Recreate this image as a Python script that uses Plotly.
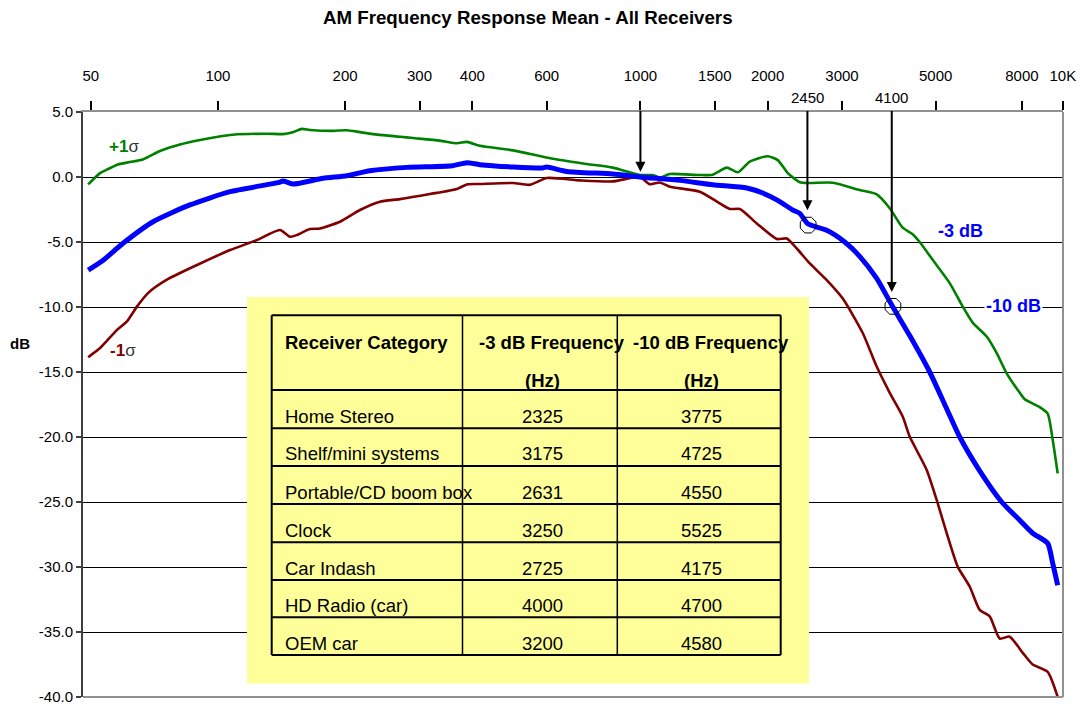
import numpy as np
import plotly.graph_objects as go

# ---------------- data ----------------
tick_f = [50, 100, 200, 300, 400, 600, 1000, 1500, 2000, 3000, 5000, 8000, 10000]
tick_labels = ["50", "100", "200", "300", "400", "600", "1000", "1500", "2000", "3000", "5000", "8000", "10K"]

y_ticks = [5, 0, -5, -10, -15, -20, -25, -30, -35, -40]
y_tick_labels = ["5.0", "0.0", "-5.0", "-10.0", "-15.0", "-20.0", "-25.0", "-30.0", "-35.0", "-40.0"]

# +1 sigma (green)
plus_f = [49.3, 52.6, 54.9, 57.7, 61.9, 66.4, 72.9, 81.3, 90.7, 100, 108.5, 130.6, 142.5, 150.4, 158,
          165.1, 187.2, 202, 216.8, 232.7, 269.6, 289.4, 335.3, 367.8, 388.3, 416.9, 499.1, 620.4,
          746.8, 860.4, 996.8, 1070, 1111.6, 1173.9, 1382, 1484, 1601, 1700, 1815, 2002, 2114, 2233,
          2384, 2517, 2853, 3304, 3625, 3892, 4177, 4410, 4582, 4918, 5397, 5792, 6116, 6602, 6973,
          7362, 7906, 8124, 8814, 9205, 9459, 9721]
plus_db = [-0.57, 0.3, 0.6, 0.95, 1.15, 1.35, 2.0, 2.5, 2.85, 3.1, 3.25, 3.33, 3.3, 3.45, 3.7,
           3.62, 3.55, 3.6, 3.45, 3.3, 3.1, 3.0, 2.8, 2.6, 2.7, 2.4, 2.05, 1.4,
           1.0, 0.72, 0.15, 0.15, -0.05, 0.23, 0.15, 0.18, 0.72, 0.36, 1.18, 1.6, 1.3, 0.3,
           -0.4, -0.46, -0.44, -1.0, -1.34, -2.4, -3.9, -4.4, -5.0, -6.37, -8.16, -9.96, -11.2, -12.27, -13.55,
           -15.1, -16.6, -17.1, -17.7, -18.2, -20.2, -22.8]

# mean (blue)
mean_f = [49.3, 53.5, 59.6, 70.2, 85.8, 106.8, 140.2, 142.5, 150.4, 177.3, 202, 228.9, 280.1, 359.8,
          388.3, 416.9, 499.1, 587.6, 600.5, 669.6, 860.4, 996.8, 1239.5, 1483.6, 1785.6, 1948, 2114,
          2294, 2384, 2490, 2761, 3045, 3304, 3625, 3950, 4339, 4839, 5252, 5700, 6355, 7165,
          7906, 8484, 9205, 9459, 9721]
mean_db = [-7.16, -6.4, -5.1, -3.44, -2.15, -1.13, -0.4, -0.3, -0.54, -0.1, 0.1, 0.48, 0.74, 0.87,
           1.1, 0.95, 0.77, 0.7, 0.77, 0.43, 0.23, 0.0, -0.26, -0.6, -0.85, -1.23, -1.8,
           -2.54, -2.8, -3.6, -4.1, -5.0, -6.1, -7.8, -9.95, -12.2, -15.0, -17.5, -20.0, -22.6, -25.0,
           -26.4, -27.4, -28.17, -29.7, -31.4]

# -1 sigma (dark red)
minus_f = [49.3, 52.6, 54.6, 57.7, 60.9, 64.3, 68.3, 75.7, 89.2, 106.8, 123.7, 140.2, 148.0, 153.8,
           165.1, 174.4, 194.4, 216.8, 241.7, 269.6, 317.5, 367.8, 388.3, 416.9, 499.1, 547.4, 600.5,
           718.8, 860.4, 996.8, 1052.5, 1111.6, 1173.9, 1382, 1541, 1628, 1719, 1886, 2103, 2221, 2345,
           2517, 2761, 3013, 3359, 3625, 3892, 4177, 4339, 4760, 5027, 5309, 5636, 6017, 6355, 6711,
           7088, 7482, 8036, 8484, 9205, 9721]
minus_db = [-13.86, -13.16, -12.6, -11.76, -11.1, -9.97, -8.93, -7.9, -6.77, -5.62, -4.85, -4.08, -4.6, -4.46,
            -4.0, -3.96, -3.44, -2.54, -1.9, -1.7, -1.31, -0.92, -0.57, -0.54, -0.46, -0.6, -0.08,
            -0.26, -0.34, 0.0, -0.55, -0.42, -0.75, -1.13, -2.03, -2.46, -2.46, -3.57, -4.77, -4.73, -5.5,
            -6.65, -7.93, -9.35, -12.0, -14.58, -16.6, -18.43, -19.97, -22.53, -24.84, -27.4, -29.97, -31.5, -33.3, -33.8,
            -35.5, -35.36, -36.6, -37.5, -38.06, -40.0]

# arrows and circle markers
arrow_f = [1000, 2485, 3935]
arrow_tip_db = [0.41, -2.56, -8.85]
arrow_tail_db = 5.2
arrow_labels = ["", "2450", "4100"]
circle_f = [2495, 3960]
circle_db = [-3.7, -9.95]

# table
categories = ["Home Stereo", "Shelf/mini systems", "Portable/CD boom box", "Clock",
              "Car Indash", "HD Radio (car)", "OEM car"]
freq_3db = ["2325", "3175", "2631", "3250", "2725", "4000", "3200"]
freq_10db = ["3775", "4725", "4550", "5525", "4175", "4700", "4580"]

# ---------------- layout helpers ----------------
FONT = "Liberation Sans, Arial, sans-serif"
W, H = 1081, 704
L, R, T, B = 83, 1063, 112, 697


def px(x):
    return (x - L) / (R - L)


def py(y):
    return (B - y) / (B - T)


fig = go.Figure()

fig.add_trace(go.Scatter(x=plus_f, y=plus_db, mode="lines", hoverinfo="skip",
                         line=dict(color="#008000", width=2.6, shape="spline", smoothing=0.6)))
fig.add_trace(go.Scatter(x=minus_f, y=minus_db, mode="lines", hoverinfo="skip",
                         line=dict(color="#800000", width=2.6, shape="spline", smoothing=0.6)))
fig.add_trace(go.Scatter(x=mean_f, y=mean_db, mode="lines", hoverinfo="skip",
                         line=dict(color="#0000FF", width=5, shape="spline", smoothing=0.6)))
fig.add_trace(go.Scatter(x=circle_f, y=circle_db, mode="markers", hoverinfo="skip",
                         marker=dict(symbol="octagon-open", size=17, color="black",
                                     line=dict(width=1, color="black"))))

shapes = []
# right and bottom borders
shapes.append(dict(type="line", xref="paper", yref="paper", x0=1, x1=1, y0=0, y1=1,
                   line=dict(color="#909090", width=2)))
shapes.append(dict(type="line", xref="paper", yref="paper", x0=0, x1=1, y0=0, y1=0,
                   line=dict(color="#909090", width=2)))
# yellow box
shapes.append(dict(type="rect", xref="paper", yref="paper", x0=px(247), x1=px(809), y0=py(683.5), y1=py(297),
                   fillcolor="#FFFF99", line=dict(width=0), layer="above"))
# table lines
row_lines = [315.3, 390, 428.3, 466, 504, 542.3, 580, 617.3, 655]
col_lines = [271.7, 462.5, 617.3, 780.7]
for yl in row_lines:
    shapes.append(dict(type="line", xref="paper", yref="paper", x0=px(col_lines[0]), x1=px(col_lines[-1]),
                       y0=py(yl), y1=py(yl), line=dict(color="black", width=2), layer="above"))
for i, xl in enumerate(col_lines):
    shapes.append(dict(type="line", xref="paper", yref="paper", x0=px(xl), x1=px(xl),
                       y0=py(row_lines[0]), y1=py(row_lines[-1]),
                       line=dict(color="black", width=2 if i in (0, 3) else 1.5), layer="above"))

ann = []
# title
ann.append(dict(text="<b>AM Frequency Response Mean - All Receivers</b>", xref="paper", yref="paper",
                x=px(528), y=py(18), xanchor="center", yanchor="middle", showarrow=False,
                font=dict(size=18.7, color="black", family=FONT)))
# dB label
ann.append(dict(text="<b>dB</b>", xref="paper", yref="paper", x=px(20), y=py(343),
                xanchor="center", yanchor="middle", showarrow=False, font=dict(size=15, color="black", family=FONT)))
# sigma labels
ann.append(dict(text="<b>+1</b><span style='color:#333333'>σ</span>", xref="paper", yref="paper",
                x=px(124), y=py(146), xanchor="center", yanchor="middle", showarrow=False,
                font=dict(size=17, color="#008000", family=FONT)))
ann.append(dict(text="<b>-1</b><span style='color:#333333'>σ</span>", xref="paper", yref="paper",
                x=px(123), y=py(350), xanchor="center", yanchor="middle", showarrow=False,
                font=dict(size=17, color="#800000", family=FONT)))
# -3 / -10 dB labels
ann.append(dict(text="<b>-3 dB</b>", xref="paper", yref="paper", x=px(960), y=py(231),
                xanchor="center", yanchor="middle", showarrow=False, font=dict(size=18, color="#0000FF", family=FONT)))
ann.append(dict(text="<b>-10 dB</b>", xref="paper", yref="paper", x=px(1013), y=py(306),
                xanchor="center", yanchor="middle", showarrow=False, bgcolor="white",
                font=dict(size=18, color="#0000FF", family=FONT)))
# arrows
for f, tip, lab in zip(arrow_f, arrow_tip_db, arrow_labels):
    lx = float(np.log10(f))
    ann.append(dict(x=lx, y=tip, xref="x", yref="y", ax=lx, ay=arrow_tail_db, axref="x", ayref="y",
                    text="", showarrow=True, arrowhead=2, arrowsize=1, arrowwidth=2, arrowcolor="black",
                    standoff=0, startstandoff=0))
    if lab:
        ann.append(dict(x=lx, y=py(97), xref="x", yref="paper", text=lab, showarrow=False,
                        xanchor="center", yanchor="middle", font=dict(size=15, color="black", family=FONT)))

# table header
hdr_font = dict(size=18.5, color="black", family=FONT)
ann.append(dict(text="<b>Receiver Category</b>", xref="paper", yref="paper", x=px(283), y=py(342),
                xanchor="left", yanchor="middle", showarrow=False, font=hdr_font))
ann.append(dict(text="<b>-3 dB Frequency</b>", xref="paper", yref="paper", x=px(477), y=py(342),
                xanchor="left", yanchor="middle", showarrow=False, font=hdr_font))
ann.append(dict(text="<b>-10 dB Frequency</b>", xref="paper", yref="paper", x=px(631), y=py(342),
                xanchor="left", yanchor="middle", showarrow=False, font=hdr_font))
ann.append(dict(text="<b>(Hz)</b>", xref="paper", yref="paper", x=px(542), y=py(380),
                xanchor="center", yanchor="middle", showarrow=False, font=hdr_font))
ann.append(dict(text="<b>(Hz)</b>", xref="paper", yref="paper", x=px(701), y=py(380),
                xanchor="center", yanchor="middle", showarrow=False, font=hdr_font))
# table body
for i, (c, a, b) in enumerate(zip(categories, freq_3db, freq_10db)):
    yc = row_lines[i + 2] - 12
    ann.append(dict(text=c, xref="paper", yref="paper", x=px(283), y=py(yc), xanchor="left",
                    yanchor="middle", showarrow=False, font=hdr_font))
    ann.append(dict(text=a, xref="paper", yref="paper", x=px(542), y=py(yc), xanchor="center",
                    yanchor="middle", showarrow=False, font=hdr_font))
    ann.append(dict(text=b, xref="paper", yref="paper", x=px(701.5), y=py(yc), xanchor="center",
                    yanchor="middle", showarrow=False, font=hdr_font))

x_left = 2 - (218 - L) / 422.6
x_right = 4.0003

fig.update_layout(
    template="none",
    width=W, height=H,
    margin=dict(l=L, r=W - R, t=T, b=H - B, autoexpand=False),
    plot_bgcolor="white", paper_bgcolor="white",
    showlegend=False,
    font=dict(family=FONT, color="black"),
    shapes=shapes, annotations=ann,
    xaxis=dict(type="log", range=[x_left, x_right], side="top", tickmode="array",
               tickvals=tick_f, ticktext=tick_labels, ticks="outside", ticklen=9, tickwidth=1.5,
               tickcolor="black", showline=True, linecolor="#909090", linewidth=2, showgrid=False,
               zeroline=False, tickfont=dict(size=15, color="black", family=FONT),
               ticklabelstandoff=14, ticklabeloverflow="allow", automargin=False),
    yaxis=dict(range=[-40, 5], tickmode="array", tickvals=y_ticks, ticktext=y_tick_labels,
               ticks="outside", ticklen=5, tickwidth=1.5, tickcolor="#404040",
               showline=True, linecolor="#404040", linewidth=2,
               showgrid=True, gridcolor="black", gridwidth=1, zeroline=False,
               tickfont=dict(size=15, color="black", family=FONT),
               ticklabeloverflow="allow", automargin=False),
)

fig.write_html("out.html", config={"displayModeBar": False},
               post_script="document.body.style.margin='0';document.body.style.padding='0';document.body.style.overflow='hidden';")
